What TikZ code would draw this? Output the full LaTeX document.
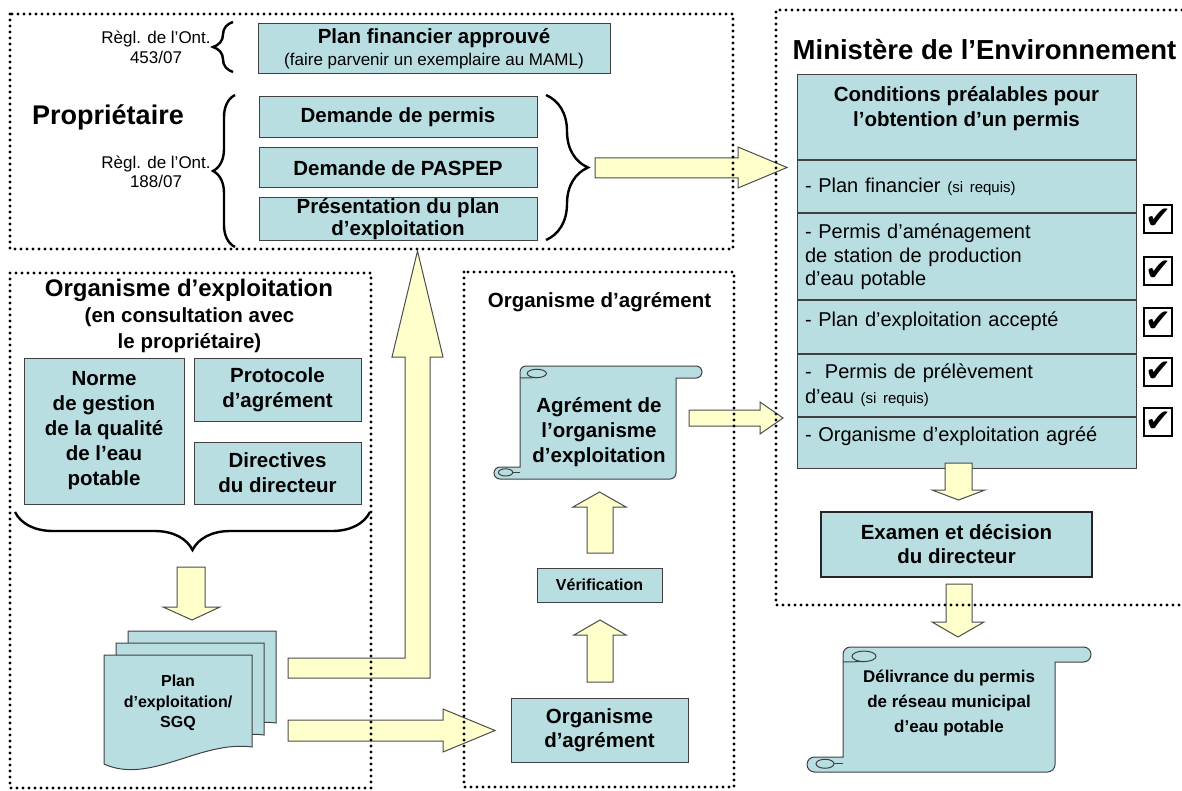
\documentclass[tikz,border=0pt]{standalone}
\usepackage{fontspec}
\setmainfont{Liberation Sans}
\newfontfamily\symb{DejaVu Sans}
\usetikzlibrary{positioning,decorations.pathreplacing}
\definecolor{bleu}{RGB}{184,222,226}
\definecolor{jaune}{RGB}{255,255,204}
\newcommand{\taille}[2]{\fontsize{#1}{#2}\selectfont}

\begin{document}
\begin{tikzpicture}
  [x=1pt,y=-1pt,
   boite/.style={draw=black!75,fill=bleu,line width=1pt,inner sep=0pt,align=center,font=\bfseries\taille{20.5}{25}},
   cellule/.style={draw=black!75,fill=bleu,line width=1pt,inner xsep=8pt,inner ysep=0pt,text width=323pt,align=left,font=\taille{20}{23.5}},
   texte/.style={inner sep=0pt,align=center},
   cadre/.style={line width=3.2pt,dash pattern=on 0pt off 6pt,line cap=round},
   fleche/.style={draw=black!70,fill=jaune,line width=1pt},
   trait/.style={draw=black!75,fill=bleu,line width=1pt},
   accolade/.style={decorate,decoration={brace,amplitude=#1},line width=2.4pt},
   casecoche/.style={draw,line width=2.8pt,minimum width=28pt,minimum height=28pt,inner sep=0pt,font=\symb\taille{31}{31}}]
  \useasboundingbox (0,0) rectangle (1182,791);

  \node[boite,minimum width=352pt,minimum height=50pt] (pf) at (434,49)
    {Plan financier approuvé\\[-3pt]{\normalfont\taille{17}{20}(faire parvenir un exemplaire au MAML)}};
  \node[boite,minimum width=278pt,minimum height=41pt] (dp) at (398,117.5) {Demande de permis};
  \node[boite,minimum width=278pt,minimum height=40pt] (dpas) at (398,168) {Demande de PASPEP};
  \node[boite,minimum width=278pt,minimum height=43pt,font=\bfseries\taille{20.5}{22}] (pres) at (398,219.5)
    {Présentation du plan\\d’exploitation};
  \node[texte,font=\taille{17}{20}] (reg1) at (156,47) {Règl. de l’Ont.\\453/07};
  \node[texte,font=\taille{17}{19}] (reg2) at (156,171.5) {Règl. de l’Ont.\\188/07};
  \node[texte,font=\bfseries\taille{27}{32}] (prop) at (108,117) {Propriétaire};
  \draw[accolade=20pt] (233,72) -- (233,22);
  \draw[accolade=22pt] (235,247) -- (235,95);
  \draw[accolade=42pt] (546,95) -- (546,240);

  \node[texte,font=\bfseries\taille{27.5}{32}] (min) at (984.5,50) {Ministère de l’Environnement};
  \node[cellule,minimum height=85pt] (c0) at (966.5,117.5) {};
  \node[texte,font=\bfseries\taille{20.5}{25},below=12pt of c0.north] (c0t) {Conditions préalables pour\\l’obtention d’un permis};
  \node[cellule,minimum height=52pt,below=0pt of c0] (c1) {- Plan financier {\taille{15}{18}(si requis)}};
  \node[cellule,minimum height=86pt,below=0pt of c1] (c2) {- Permis d’aménagement\\de station de production\\d’eau potable};
  \node[cellule,minimum height=52pt,text depth=16pt,below=0pt of c2] (c3) {- Plan d’exploitation accepté};
  \node[cellule,minimum height=62pt,below=0pt of c3] (c4) {- \ Permis de prélèvement\\[2pt]d’eau {\taille{15}{18}(si requis)}};
  \node[cellule,minimum height=51pt,text depth=17pt,below=0pt of c4] (c5) {- Organisme d’exploitation agréé};
  \foreach \y [count=\i] in {219,271,322,372,422}
    \node[casecoche] (ok\i) at (1158,\y) {✔};
  \node[boite,minimum width=271pt,minimum height=65pt,line width=2.5pt,draw=black!85,font=\bfseries\taille{20.5}{24}] (exam) at (956.5,544.5)
    {Examen et décision\\du directeur};

  \foreach \ga/\dr/\ha/\ba/\ep/\ext in {520/676/366/479/12/26,843/1055/647/772/15/36} {
    \draw[trait] (\ga,\ba-\ep) -- (\ga,\ha+\ep/2) arc[start angle=180,end angle=270,radius=\ep/2]
      -- (\dr+\ext-\ep/2,\ha) arc[start angle=-90,end angle=90,radius=\ep/2]
      -- (\dr,\ha+\ep) -- (\dr,\ba-\ep/2) arc[start angle=0,end angle=90,radius=\ep/2]
      -- (\ga-\ext+\ep/2,\ba) arc[start angle=90,end angle=270,radius=\ep/2] -- cycle;
    \draw[trait] (\ga,\ha+\ep) -- (\ga+1.4*\ep,\ha+0.97*\ep);
    \draw[trait] (\ga+1.4*\ep,\ha+0.62*\ep) ellipse[x radius=0.8*\ep,y radius=0.35*\ep];
    \draw[trait] (\ga-0.6*\ep,\ba-0.55*\ep) -- (\ga,\ba-0.55*\ep);
    \draw[trait] (\ga-1.2*\ep,\ba-0.55*\ep) ellipse[x radius=0.6*\ep,y radius=0.3*\ep];
  }
  \node[texte,font=\bfseries\taille{17}{25}] (deliv) at (949,703) {Délivrance du permis\\de réseau municipal\\d’eau potable};

  \node[texte,font=\bfseries\taille{20.5}{25}] (oa) at (599.5,302) {Organisme d’agrément};
  \node[texte,font=\bfseries\taille{20.5}{25}] (agr) at (599,432) {Agrément de\\l’organisme\\d’exploitation};
  \node[boite,minimum width=125pt,minimum height=34pt,font=\bfseries\taille{16}{20}] (verif) at (599.5,585) {Vérification};
  \node[boite,minimum width=177pt,minimum height=64pt,font=\bfseries\taille{20.5}{24}] (orga) at (599.5,730) {Organisme\\d’agrément};

  \node[texte,font=\bfseries\taille{24}{28}] (oe) at (189,290) {Organisme d’exploitation};
  \node[texte,font=\bfseries\taille{20.5}{26}] (cons) at (189.5,330) {(en consultation avec\\le propriétaire)};
  \node[boite,minimum width=160pt,minimum height=146pt] (norme) at (104,431) {Norme\\de gestion\\de la qualité\\de l’eau\\potable};
  \node[boite,minimum width=167pt,minimum height=63pt] (proto) at (277.5,389.5) {Protocole\\d’agrément};
  \node[boite,minimum width=167pt,minimum height=62pt] (direc) at (277.5,473) {Directives\\du directeur};
  \draw[accolade=38pt] (370,512) -- (15,512);
  \foreach \dx/\dy in {24/-24,12/-12,0/0}
    \draw[trait,shift={(\dx,\dy)}] (104,655) -- (252,655) -- (252,747) .. controls (200,740) and (150,785) .. (104,764) -- cycle;
  \node[texte,font=\bfseries\taille{16}{20.5}] (plan) at (178,703) {Plan\\d’exploitation/\\SGQ};

  \draw[fleche] (595,158) -- (738,158) -- (738,147) -- (787,167.5) -- (738,188) -- (738,178) -- (595,178) -- cycle;
  \draw[fleche] (288,658) -- (405,658) -- (405,357) -- (392,357) -- (417.5,251) -- (443,357) -- (430,357) -- (430,678) -- (288,678) -- cycle;
  \draw[fleche] (288,720) -- (443,720) -- (443,709) -- (495,730.5) -- (443,752) -- (443,741) -- (288,741) -- cycle;
  \draw[fleche] (177,567) -- (205,567) -- (205,607) -- (220,607) -- (192,620) -- (163,607) -- (177,607) -- cycle;
  \draw[fleche] (587,682) -- (587,635) -- (574,635) -- (600,620) -- (626,635) -- (613,635) -- (613,682) -- cycle;
  \draw[fleche] (587,553) -- (587,507) -- (573,507) -- (599.5,492) -- (626,507) -- (613,507) -- (613,553) -- cycle;
  \draw[fleche] (689,410) -- (760,410) -- (760,402) -- (783,418) -- (760,434) -- (760,426) -- (689,426) -- cycle;
  \draw[fleche] (945,463) -- (972,463) -- (972,490) -- (985,490) -- (958.5,500) -- (932,490) -- (945,490) -- cycle;
  \draw[fleche] (946,584) -- (972,584) -- (972,622) -- (984,622) -- (958,637) -- (932,622) -- (946,622) -- cycle;

  \draw[cadre] (10,14) rectangle (733,249);
  \draw[cadre] (10,273) rectangle (371,788);
  \draw[cadre] (464,272) rectangle (734,787);
  \draw[cadre] (1182,10) -- (776,10) -- (776,605) -- (1182,605);
\end{tikzpicture}
\end{document}
